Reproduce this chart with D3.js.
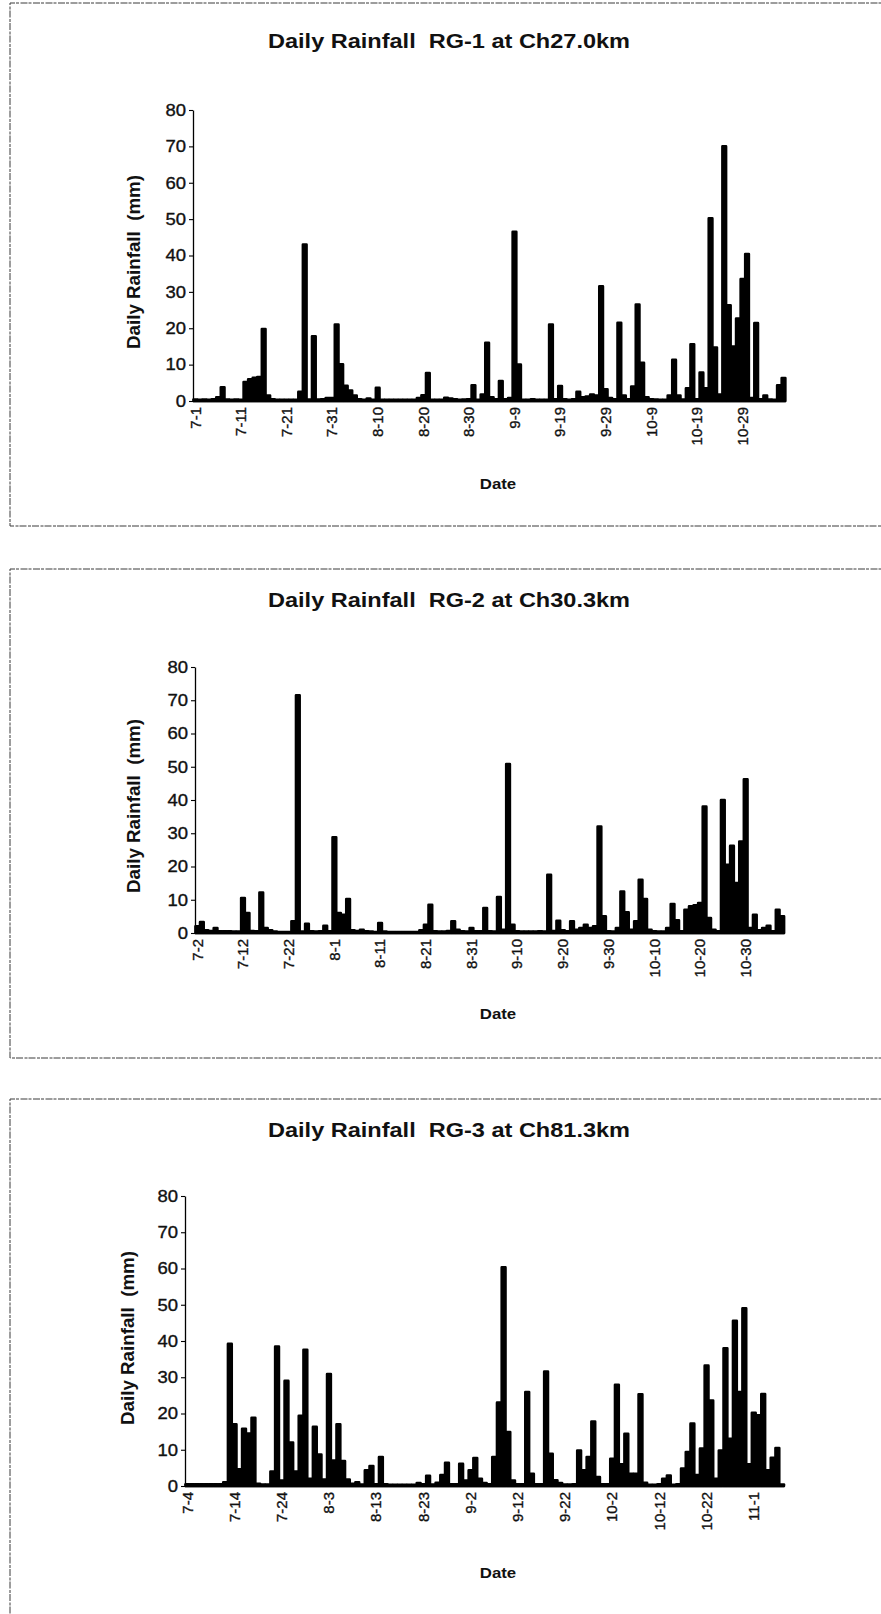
<!DOCTYPE html>
<html>
<head>
<meta charset="utf-8">
<script src="https://cdn.jsdelivr.net/npm/d3@7"></script>
<style>
  html, body { margin: 0; padding: 0; background: #fff; }
  svg { display: block; }
  text { font-family: "Liberation Sans", Arial, Helvetica, sans-serif; fill: #111; white-space: pre; }
</style>
</head>
<body>
<svg id="chart" width="881" height="1614"></svg>
<script>
// ---- Daily rainfall records (mm), one value per day ----

// RG-1 at Ch27.0km, from 7-1
const rg1Title = "Daily Rainfall  RG-1 at Ch27.0km";
const rg1Start = "7-1";
const rg1Rain = [
  0.4, 0.3, 0.4, 0.3, 0.5, 1.0, 3.8, 0.4, 0.3, 0.4,
  0.3, 5.2, 6.0, 6.4, 6.6, 19.8, 1.5, 0.5, 0.3, 0.3,
  0.3, 0.3, 0.3, 2.5, 43.0, 0.4, 17.8, 0.4, 0.5, 0.8,
  0.8, 21.0, 10.1, 4.2, 2.9, 1.5, 0.5, 0.3, 0.7, 0.3,
  3.6, 0.3, 0.3, 0.3, 0.3, 0.3, 0.3, 0.3, 0.3, 0.8,
  1.6, 7.7, 0.3, 0.3, 0.3, 0.9, 0.7, 0.5, 0.3, 0.4,
  0.5, 4.3, 0.3, 1.8, 16.0, 1.0, 0.5, 5.5, 0.5, 0.8,
  46.5, 10.0, 0.3, 0.3, 0.5, 0.3, 0.3, 0.3, 21.0, 0.5,
  4.1, 0.5, 0.3, 0.5, 2.5, 1.0, 1.2, 1.8, 1.5, 31.5,
  3.2, 0.8, 0.5, 21.5, 1.5, 0.5, 4.0, 26.5, 10.5, 1.0,
  0.5, 0.4, 0.3, 0.3, 1.5, 11.3, 1.5, 0.4, 3.5, 15.6,
  0.5, 7.8, 3.5, 50.2, 14.7, 1.8, 70.0, 26.3, 15.0, 22.7,
  33.5, 40.4, 0.8, 21.4, 0.5, 1.5, 0.4, 0.3, 4.3, 6.3
];
const rg1Ticks = ["7-1", "7-11", "7-21", "7-31", "8-10", "8-20", "8-30",
                  "9-9", "9-19", "9-29", "10-9", "10-19", "10-29"];

// RG-2 at Ch30.3km, from 7-2
const rg2Title = "Daily Rainfall  RG-2 at Ch30.3km";
const rg2Start = "7-2";
const rg2Rain = [
  2.0, 3.3, 0.8, 0.6, 1.5, 0.5, 0.5, 0.5, 0.4, 0.4,
  10.5, 6.0, 0.6, 0.5, 12.2, 1.5, 0.8, 0.4, 0.3, 0.3,
  0.3, 3.5, 71.5, 0.4, 2.8, 0.5, 0.4, 0.5, 2.2, 0.5,
  28.8, 6.0, 5.5, 10.2, 0.8, 0.6, 1.0, 0.5, 0.4, 0.3,
  3.0, 0.4, 0.3, 0.3, 0.3, 0.3, 0.3, 0.3, 0.3, 0.8,
  2.5, 8.5, 0.5, 0.4, 0.4, 0.6, 3.5, 1.0, 0.5, 0.4,
  1.5, 0.5, 0.5, 7.5, 0.5, 0.4, 10.8, 1.0, 50.8, 2.5,
  0.5, 0.4, 0.4, 0.4, 0.4, 0.5, 0.4, 17.5, 0.6, 3.7,
  0.8, 0.5, 3.5, 1.0, 1.5, 2.5, 1.5, 2.0, 32.0, 5.0,
  0.5, 0.4, 1.5, 12.5, 6.2, 1.0, 3.5, 16.0, 10.2, 1.0,
  0.5, 0.4, 0.4, 1.5, 8.7, 3.8, 0.5, 7.0, 8.0, 8.3,
  9.0, 38.0, 4.5, 1.0, 0.5, 40.0, 20.5, 26.2, 15.0, 27.5,
  46.2, 1.5, 5.5, 0.8, 1.5, 2.2, 0.5, 7.0, 5.0
];
const rg2Ticks = ["7-2", "7-12", "7-22", "8-1", "8-11", "8-21", "8-31",
                  "9-10", "9-20", "9-30", "10-10", "10-20", "10-30"];

// RG-3 at Ch81.3km, from 7-4
const rg3Title = "Daily Rainfall  RG-3 at Ch81.3km";
const rg3Start = "7-4";
const rg3Rain = [
  0.5, 0.5, 0.5, 0.5, 0.5, 0.5, 0.5, 0.5, 1.0, 39.2,
  17.0, 4.6, 15.8, 14.5, 18.8, 0.6, 0.4, 0.4, 4.0, 38.5,
  1.5, 29.0, 12.0, 4.0, 19.4, 37.6, 2.0, 16.3, 8.7, 1.8,
  30.9, 7.0, 17.0, 6.9, 1.8, 0.6, 1.0, 0.4, 4.3, 5.5,
  0.5, 8.0, 0.5, 0.3, 0.3, 0.3, 0.3, 0.3, 0.3, 0.8,
  0.5, 2.8, 0.4, 0.9, 3.0, 6.4, 0.5, 0.5, 6.1, 1.5,
  4.3, 7.7, 2.0, 0.8, 0.5, 8.0, 23.0, 60.3, 14.9, 1.5,
  0.5, 0.5, 25.9, 3.4, 0.5, 0.5, 31.6, 8.9, 1.6, 0.8,
  0.4, 0.4, 0.5, 9.8, 4.3, 8.0, 17.8, 2.5, 0.5, 0.5,
  7.5, 27.9, 6.0, 14.4, 3.4, 3.4, 25.3, 0.9, 0.3, 0.3,
  0.5, 2.0, 2.9, 0.3, 0.5, 4.8, 9.4, 17.2, 3.0, 10.3,
  33.2, 23.6, 2.0, 9.8, 38.0, 13.0, 45.6, 25.9, 49.0, 6.0,
  20.2, 19.5, 25.4, 4.3, 7.8, 10.5, 0.4
];
const rg3Ticks = ["7-4", "7-14", "7-24", "8-3", "8-13", "8-23", "9-2",
                  "9-12", "9-22", "10-2", "10-12", "10-22", "11-1"];

const yTickValues = [0, 10, 20, 30, 40, 50, 60, 70, 80];
const yTitle = "Daily Rainfall  (mm)";
const xTitle = "Date";

// ---- Panel placement on the page ----
const panels = [
  { title: rg1Title, start: rg1Start, rain: rg1Rain, ticks: rg1Ticks,
    frameTop: 3, frameBottom: 526, axisX: 193, step: 4.56, y0: 401, y80: 110,
    titleY: 48, yTitleX: 134, yTitleY: 262, dateY: 489 },
  { title: rg2Title, start: rg2Start, rain: rg2Rain, ticks: rg2Ticks,
    frameTop: 569, frameBottom: 1058, axisX: 195, step: 4.57, y0: 933, y80: 667,
    titleY: 607, yTitleX: 134, yTitleY: 806, dateY: 1019 },
  { title: rg3Title, start: rg3Start, rain: rg3Rain, ticks: rg3Ticks,
    frameTop: 1099, frameBottom: null, axisX: 185, step: 4.72, y0: 1486, y80: 1196,
    titleY: 1137, yTitleX: 128, yTitleY: 1338, dateY: 1578 }
];

const svg = d3.select("#chart");
svg.append("rect").attr("width", 881).attr("height", 1614).attr("fill", "#fff");

// Day labels "M-D" for each day starting at a given month-day
function dayLabels(start, n) {
  const [m, d] = start.split("-").map(Number);
  const t0 = new Date(2001, m - 1, d);
  return d3.range(n).map(i => {
    const t = d3.timeDay.offset(t0, i);
    return (t.getMonth() + 1) + "-" + t.getDate();
  });
}

// Widen text horizontally by a factor, keeping its anchor
function widen(sel, k) {
  sel.each(function () {
    const w = this.getComputedTextLength();
    d3.select(this).attr("textLength", w * k).attr("lengthAdjust", "spacingAndGlyphs");
  });
}

panels.forEach(p => {
  const g = svg.append("g");
  const days = dayLabels(p.start, p.rain.length);

  // panel frame (open on the right side)
  const fr = d3.path();
  fr.moveTo(890, p.frameTop);
  fr.lineTo(10, p.frameTop);
  if (p.frameBottom !== null) {
    fr.lineTo(10, p.frameBottom);
    fr.lineTo(890, p.frameBottom);
  } else {
    fr.lineTo(10, 1620);
  }
  g.append("path").attr("d", fr.toString())
    .attr("fill", "none").attr("stroke", "#3a3a3a").attr("stroke-width", 1)
    .attr("stroke-dasharray", "7,1.5,3,1");

  const x = d3.scaleBand()
    .domain(days)
    .range([p.axisX, p.axisX + p.step * days.length])
    .paddingInner(0).paddingOuter(0);
  const y = d3.scaleLinear().domain([0, 80]).range([p.y0, p.y80]);

  // columns
  const bw = x.bandwidth() * 0.8;
  g.append("g").selectAll("rect")
    .data(p.rain.map((v, i) => ({ day: days[i], v })))
    .join("rect")
      .attr("x", d => x(d.day) + (x.bandwidth() - bw) / 2)
      .attr("width", bw)
      .attr("y", d => y(d.v))
      .attr("height", d => y(0) - y(d.v))
      .attr("fill", "#000")
      .attr("stroke", "#000")
      .attr("stroke-width", 2.6)
      .attr("stroke-linejoin", "round");

  // category baseline
  g.append("line")
    .attr("x1", p.axisX).attr("x2", x.range()[1])
    .attr("y1", y(0)).attr("y2", y(0))
    .attr("stroke", "#000").attr("stroke-width", 2.6);

  // value axis
  const yAxis = g.append("g")
    .attr("transform", `translate(${p.axisX},0)`)
    .call(d3.axisLeft(y).tickValues(yTickValues).tickSize(4).tickSizeOuter(0).tickPadding(3));
  yAxis.select(".domain").attr("stroke", "#000").attr("stroke-width", 1.3);
  yAxis.selectAll(".tick line").attr("stroke", "#000").attr("stroke-width", 1.1);
  yAxis.selectAll(".tick text")
    .attr("font-size", 16.5)
    .attr("font-family", "\"Liberation Sans\", Arial, sans-serif")
    .attr("fill", "#111")
    .attr("stroke", "#111").attr("stroke-width", 0.35);
  widen(yAxis.selectAll(".tick text"), 1.12);

  // date labels, rotated
  g.append("g").selectAll("text")
    .data(p.ticks)
    .join("text")
      .attr("transform", d => `translate(${x(d) + x.bandwidth() / 2},${y(0) + 6}) rotate(-90)`)
      .attr("text-anchor", "end")
      .attr("dy", "0.35em")
      .attr("font-size", 15)
      .attr("stroke", "#111").attr("stroke-width", 0.35)
      .text(d => d);

  // panel title
  g.append("text")
    .attr("x", 449).attr("y", p.titleY)
    .attr("text-anchor", "middle")
    .attr("font-size", 20).attr("font-weight", "bold")
    .attr("textLength", 362).attr("lengthAdjust", "spacingAndGlyphs")
    .text(p.title);

  // axis titles
  g.append("text")
    .attr("transform", `translate(${p.yTitleX},${p.yTitleY}) rotate(-90)`)
    .attr("text-anchor", "middle")
    .attr("dy", "0.35em")
    .attr("font-size", 17.5).attr("font-weight", "bold")
    .attr("textLength", 174).attr("lengthAdjust", "spacingAndGlyphs")
    .text(yTitle);

  const dt = g.append("text")
    .attr("x", 498).attr("y", p.dateY)
    .attr("text-anchor", "middle")
    .attr("font-size", 15).attr("font-weight", "bold")
    .text(xTitle);
  widen(dt, 1.12);
});
</script>
</body>
</html>
